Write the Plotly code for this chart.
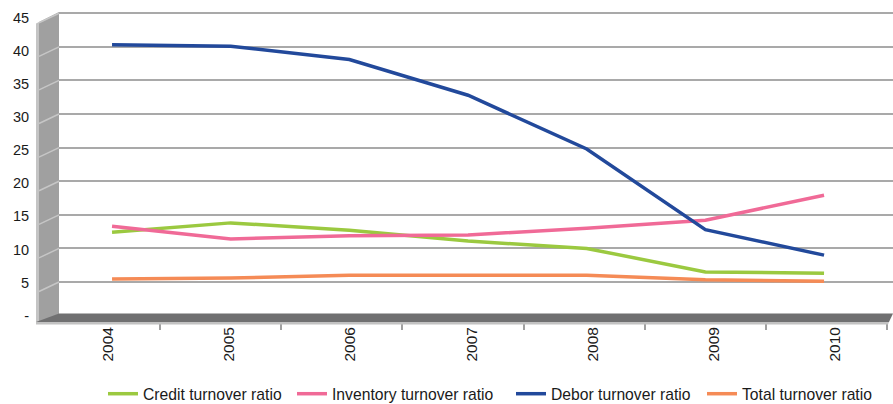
import plotly.graph_objects as go

# Turnover ratios by year
years = ["2004", "2005", "2006", "2007", "2008", "2009", "2010"]
credit_turnover = [12.4, 13.8, 12.7, 11.1, 10.0, 6.5, 6.3]
inventory_turnover = [13.3, 11.4, 11.9, 12.0, 13.0, 14.2, 17.9]
debor_turnover = [40.3, 40.1, 38.1, 32.8, 24.8, 12.8, 9.0]
total_turnover = [5.45, 5.6, 6.0, 5.95, 6.0, 5.35, 5.1]

y_ticks = [0, 5, 10, 15, 20, 25, 30, 35, 40, 45]
y_tick_text = ["-", "5", "10", "15", "20", "25", "30", "35", "40", "45"]

series = [
    ("Credit turnover ratio", credit_turnover, "#9BC940"),
    ("Inventory turnover ratio", inventory_turnover, "#F06A97"),
    ("Debor turnover ratio", debor_turnover, "#22499B"),
    ("Total turnover ratio", total_turnover, "#F58B56"),
]
# left edge (px) of each legend entry
legend_left = [103, 292, 511, 702]

FONT = "Liberation Sans, Arial, sans-serif"
W, H = 893, 404
M_L, M_R, M_T, M_B = 59, 0, 11, 81
PLOT_W = W - M_L - M_R
PLOT_H = H - M_T - M_B
Y_RANGE = [-1.10, 45.33]


def px(x):
    """pixel x -> paper x"""
    return (x - M_L) / PLOT_W


def py(y):
    """pixel y -> paper y"""
    return (H - M_B - y) / PLOT_H


def path(points):
    return "M " + " L ".join(f"{px(x):.5f},{py(y):.5f}" for x, y in points) + " Z"


fig = go.Figure()
x_idx = list(range(len(years)))
legend_ids = ["legend", "legend2", "legend3", "legend4"]
for (name, values, color), lg in zip(series, legend_ids):
    fig.add_trace(go.Scatter(
        x=x_idx, y=values, name=name, mode="lines",
        line=dict(color=color, width=3.5), legend=lg,
    ))

# carrier for the label axes
fig.add_trace(go.Scatter(x=[], y=[], xaxis="x2", yaxis="y2",
                         showlegend=False, hoverinfo="skip"))

shapes = []
# side wall of the 3D frame
shapes.append(dict(type="path", xref="paper", yref="paper", layer="below",
                   path=path([(39, 22), (59, 12), (59, 314), (39, 323)]),
                   fillcolor="#a0a0a0", line=dict(width=0)))
shapes.append(dict(type="path", xref="paper", yref="paper", layer="below",
                   path=path([(36, 23.5), (39, 22), (39, 323), (36, 324)]),
                   fillcolor="#c4c4c4", line=dict(width=0)))
# gridlines continued across the side wall
for v in y_ticks[1:]:
    y0 = (v - Y_RANGE[0]) / (Y_RANGE[1] - Y_RANGE[0])
    shapes.append(dict(type="line", xref="paper", yref="paper", layer="below",
                       x0=0, y0=y0, x1=px(39), y1=y0 - 9.5 / PLOT_H,
                       line=dict(color="#c6c6c6", width=1.5)))
# floor
shapes.append(dict(type="path", xref="paper", yref="paper", layer="above",
                   path=path([(59, 313.5), (893, 313.5), (889, 322), (36, 322)]),
                   fillcolor="#707071", line=dict(width=0)))
shapes.append(dict(type="path", xref="paper", yref="paper", layer="above",
                   path=path([(36, 322), (889, 322), (888, 324.5), (36, 324.5)]),
                   fillcolor="#c2c2c2", line=dict(width=0)))

label_x0 = 108
label_step = 121.17
x2_range = [(M_L - label_x0) / label_step, (W - M_R - label_x0) / label_step]
boundary0 = (160 - label_x0) / label_step

legend_style = dict(
    orientation="h", xanchor="left", y=py(394), yanchor="middle",
    font=dict(family=FONT, size=15.7, color="#1a1a1a"),
    bgcolor="rgba(0,0,0,0)", itemwidth=30,
)
legends = {lg: dict(legend_style, x=px(left)) for lg, left in zip(legend_ids, legend_left)}

fig.update_layout(
    width=W, height=H,
    margin=dict(l=M_L, r=M_R, t=M_T, b=M_B, autoexpand=False),
    paper_bgcolor="white", plot_bgcolor="white",
    font=dict(family=FONT, size=14, color="#262626"),
    shapes=shapes,
    showlegend=True,
    xaxis=dict(
        range=[-0.447, 6.581], visible=False, fixedrange=True,
    ),
    yaxis=dict(
        range=Y_RANGE, tickvals=y_ticks[1:], showticklabels=False, ticks="",
        showgrid=True, gridcolor="#a9a9a9", gridwidth=2, zeroline=False,
        showline=False, fixedrange=True,
    ),
    xaxis2=dict(
        overlaying="x", anchor="y2", side="bottom", range=x2_range,
        tickmode="array", tickvals=x_idx, ticktext=years, tickangle=-90,
        ticks="", showgrid=False, zeroline=False, showline=False,
        tickfont=dict(family=FONT, size=15.5, color="#1a1a1a"),
        minor=dict(tickmode="array",
                   tickvals=[boundary0 + i for i in range(len(years))],
                   ticks="outside", ticklen=6, tickcolor="#a0a0a0", tickwidth=1.5,
                   showgrid=False),
        fixedrange=True,
    ),
    yaxis2=dict(
        overlaying="y", anchor="x2", side="left", range=[-1.10, 45.98],
        tickmode="array", tickvals=y_ticks, ticktext=y_tick_text,
        ticks="outside", ticklen=26, tickcolor="rgba(0,0,0,0)",
        showgrid=False, zeroline=False, showline=False,
        tickfont=dict(family=FONT, size=14.5, color="#1a1a1a"),
        fixedrange=True,
    ),
    **legends,
)

fig.write_html("out.html")
